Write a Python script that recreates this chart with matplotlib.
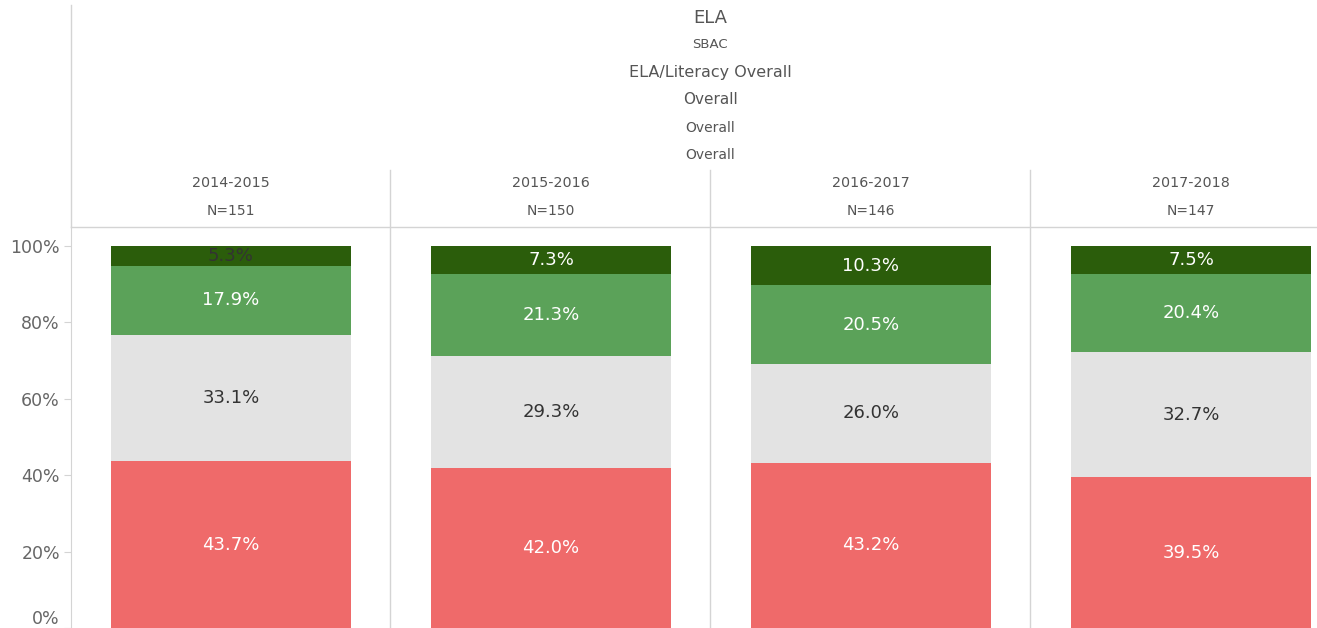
import matplotlib
matplotlib.use("Agg")
import matplotlib.pyplot as plt
from matplotlib.lines import Line2D

YEARS = ["2014-2015", "2015-2016", "2016-2017", "2017-2018"]
N_COUNTS = [151, 150, 146, 147]
# stacked from bottom to top
NOT_MET = [43.7, 42.0, 43.2, 39.5]
NEARLY = [33.1, 29.3, 26.0, 32.7]
MET = [17.9, 21.3, 20.5, 20.4]
EXCEEDED = [5.3, 7.3, 10.3, 7.5]
HEADER = ["ELA", "SBAC", "ELA/Literacy Overall", "Overall", "Overall", "Overall"]
YTICKS = [0, 20, 40, 60, 80, 100]

C_RED = "#ef6a6a"
C_GREY = "#e3e3e3"
C_GREEN = "#5ba259"
C_DARK = "#2b5d0b"
C_RULE = "#d4d4d4"
C_TEXT = "#555555"

plt.rcParams["font.family"] = ["DejaVu Sans"]

W, H = 1317, 628
fig = plt.figure(figsize=(W / 100, H / 100), dpi=100)

# plot area: x from 71px to 1351px (last panel cropped by the figure edge)
left, right = 71, 1351
top, bottom = 227, 628
ax = fig.add_axes([left / W, 1 - bottom / H, (right - left) / W,
                   (bottom - top) / H])
ax.set_xlim(0, 4)
ax.set_ylim(0, 100 * (bottom - top) / (bottom - 246))

segs = [(NOT_MET, C_RED, "white"), (NEARLY, C_GREY, "#333333"),
        (MET, C_GREEN, "white"), (EXCEEDED, C_DARK, "white")]
xs = [i + 0.5 for i in range(len(YEARS))]
base = [0.0] * len(YEARS)
for vals, color, tcol in segs:
    ax.bar(xs, vals, bottom=base, width=0.75, color=color, lw=0)
    for i, (x, v, b) in enumerate(zip(xs, vals, base)):
        c = tcol
        if color == C_DARK and v < 6:
            c = "#333333"   # too thin: label drawn dark
        ax.text(x, b + v / 2, f"{v:.1f}%", ha="center", va="center",
                fontsize=13, color=c)
    base = [b + v for b, v in zip(base, vals)]

ax.set_yticks(YTICKS)
ax.set_yticklabels([f"{t}%" for t in YTICKS], fontsize=12.5, color="#666666")
ax.get_yticklabels()[0].set_verticalalignment("bottom")
ax.tick_params(axis="y", length=5, color=C_RULE, pad=3)
ax.set_xticks([])
for s in ("top", "right", "bottom"):
    ax.spines[s].set_visible(False)
ax.spines["left"].set_color(C_RULE)

# header rules, in pixel coordinates
def px(x, y):
    return x / W, 1 - y / H

for xv in (390, 710, 1030):
    x0, y0 = px(xv, 170)
    x1, y1 = px(xv, 628)
    fig.add_artist(Line2D([x0, x1], [y0, y1], color=C_RULE, lw=1))
x0, y0 = px(left, 5)
x1, y1 = px(left, top)
fig.add_artist(Line2D([x0, x1], [y0, y1], color=C_RULE, lw=1))
x0, y0 = px(left, top)
x1, y1 = px(W, top)
fig.add_artist(Line2D([x0, x1], [y0, y1], color=C_RULE, lw=1))

# stacked header text
hy = [18, 45, 72, 100, 128, 155]
hs = [13, 9.5, 11.5, 11, 10, 10]
for txt, y, s in zip(HEADER, hy, hs):
    fig.text(*px(710, y), txt, ha="center", va="center", fontsize=s,
             color=C_TEXT)

for i, (yr, n) in enumerate(zip(YEARS, N_COUNTS)):
    cx = left + (i + 0.5) * 320
    fig.text(*px(cx, 183), yr, ha="center", va="center", fontsize=10.3,
             color=C_TEXT)
    fig.text(*px(cx, 211), f"N={n}", ha="center", va="center",
             fontsize=10, color=C_TEXT)

fig.savefig("out.png", dpi=100)
